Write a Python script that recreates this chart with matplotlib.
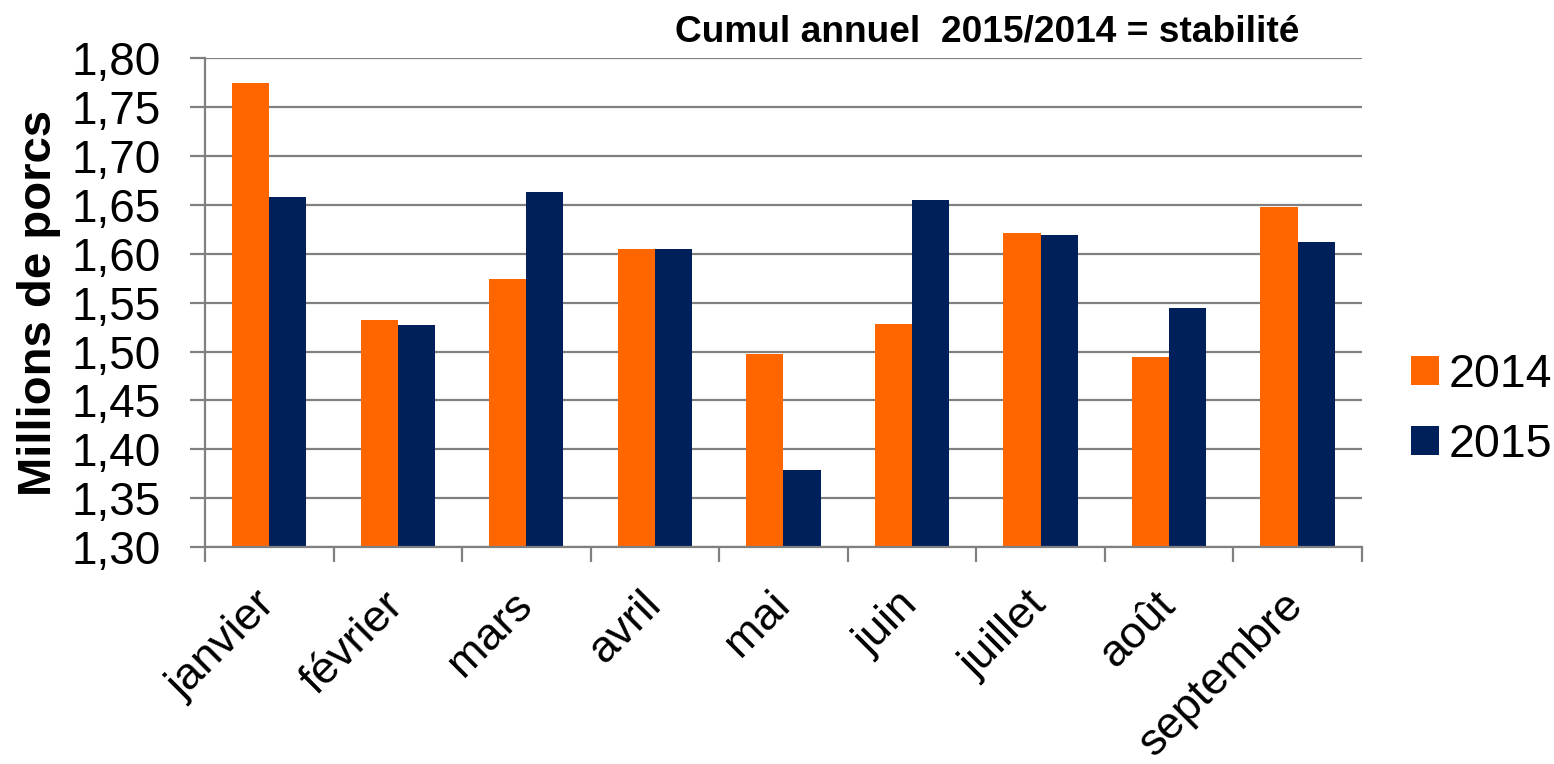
import matplotlib
matplotlib.use("Agg")
import matplotlib.pyplot as plt
import matplotlib.transforms as mtransforms
import numpy as np

plt.rcParams['font.family'] = ['Liberation Sans', 'DejaVu Sans']

months = ["janvier", "février", "mars", "avril", "mai", "juin", "juillet", "août", "septembre"]
values_2014 = [1.774, 1.532, 1.574, 1.605, 1.497, 1.528, 1.621, 1.494, 1.647]
values_2015 = [1.658, 1.527, 1.663, 1.605, 1.379, 1.655, 1.619, 1.544, 1.612]
series_labels = ["2014", "2015"]
yticks = [1.30, 1.35, 1.40, 1.45, 1.50, 1.55, 1.60, 1.65, 1.70, 1.75, 1.80]

fig = plt.figure(figsize=(15.54, 7.64), dpi=100)
ax = fig.add_axes([0.1319, 0.2834, 0.8764 - 0.1319, 0.9247 - 0.2834])

x = np.arange(len(months))
w = 0.289
b1 = ax.bar(x - w / 2, [v - 1.30 for v in values_2014], w, bottom=1.30, color="#FF6600", label=series_labels[0])
b2 = ax.bar(x + w / 2, [v - 1.30 for v in values_2015], w, bottom=1.30, color="#00205C", label=series_labels[1])

ax.set_ylim(1.30, 1.80)
ax.set_xlim(-0.5, len(months) - 0.5)
ax.set_yticks(yticks)
ax.set_yticklabels([f"{t:.2f}".replace(".", ",") for t in yticks], fontsize=33)
ax.yaxis.grid(True, color="#808080", linewidth=1.6)
ax.set_axisbelow(True)

ax.set_xticks(np.arange(len(months) + 1) - 0.5, minor=False)
ax.set_xticklabels([])
ax.set_xticks(x, minor=True)
ax.set_xticklabels(months, minor=True, rotation=45, ha="right", va="top",
                   rotation_mode="anchor", fontsize=32.5)
ax.tick_params(axis="x", which="minor", length=0, pad=26.5)
ax.tick_params(axis="x", which="major", length=11, width=1.6, color="#808080")
ax.tick_params(axis="y", length=11, width=1.6, color="#808080", pad=20.5)

shift = mtransforms.ScaledTranslation(-0.15, 0, fig.dpi_scale_trans)
for lbl in ax.get_xticklabels(minor=True):
    lbl.set_transform(lbl.get_transform() + shift)

for s in ["top", "right"]:
    ax.spines[s].set_visible(False)
for s in ["left", "bottom"]:
    ax.spines[s].set_color("#808080")
    ax.spines[s].set_linewidth(1.6)

ax.set_ylabel("Millions de porcs", fontsize=34, fontweight="bold", labelpad=8)

fig.text(0.6355, 0.958, "Cumul annuel  2015/2014 = stabilité", fontsize=26.7,
         fontweight="bold", ha="center", va="center")

leg = fig.legend(handles=[b1, b2], labels=series_labels, loc="center left",
                 bbox_to_anchor=(0.908, 0.4635), frameon=False, fontsize=33.5,
                 handlelength=0.61, handleheight=0.56, handletextpad=0.2,
                 labelspacing=0.56, borderaxespad=0, borderpad=0)

fig.savefig("out.png", dpi=100)
